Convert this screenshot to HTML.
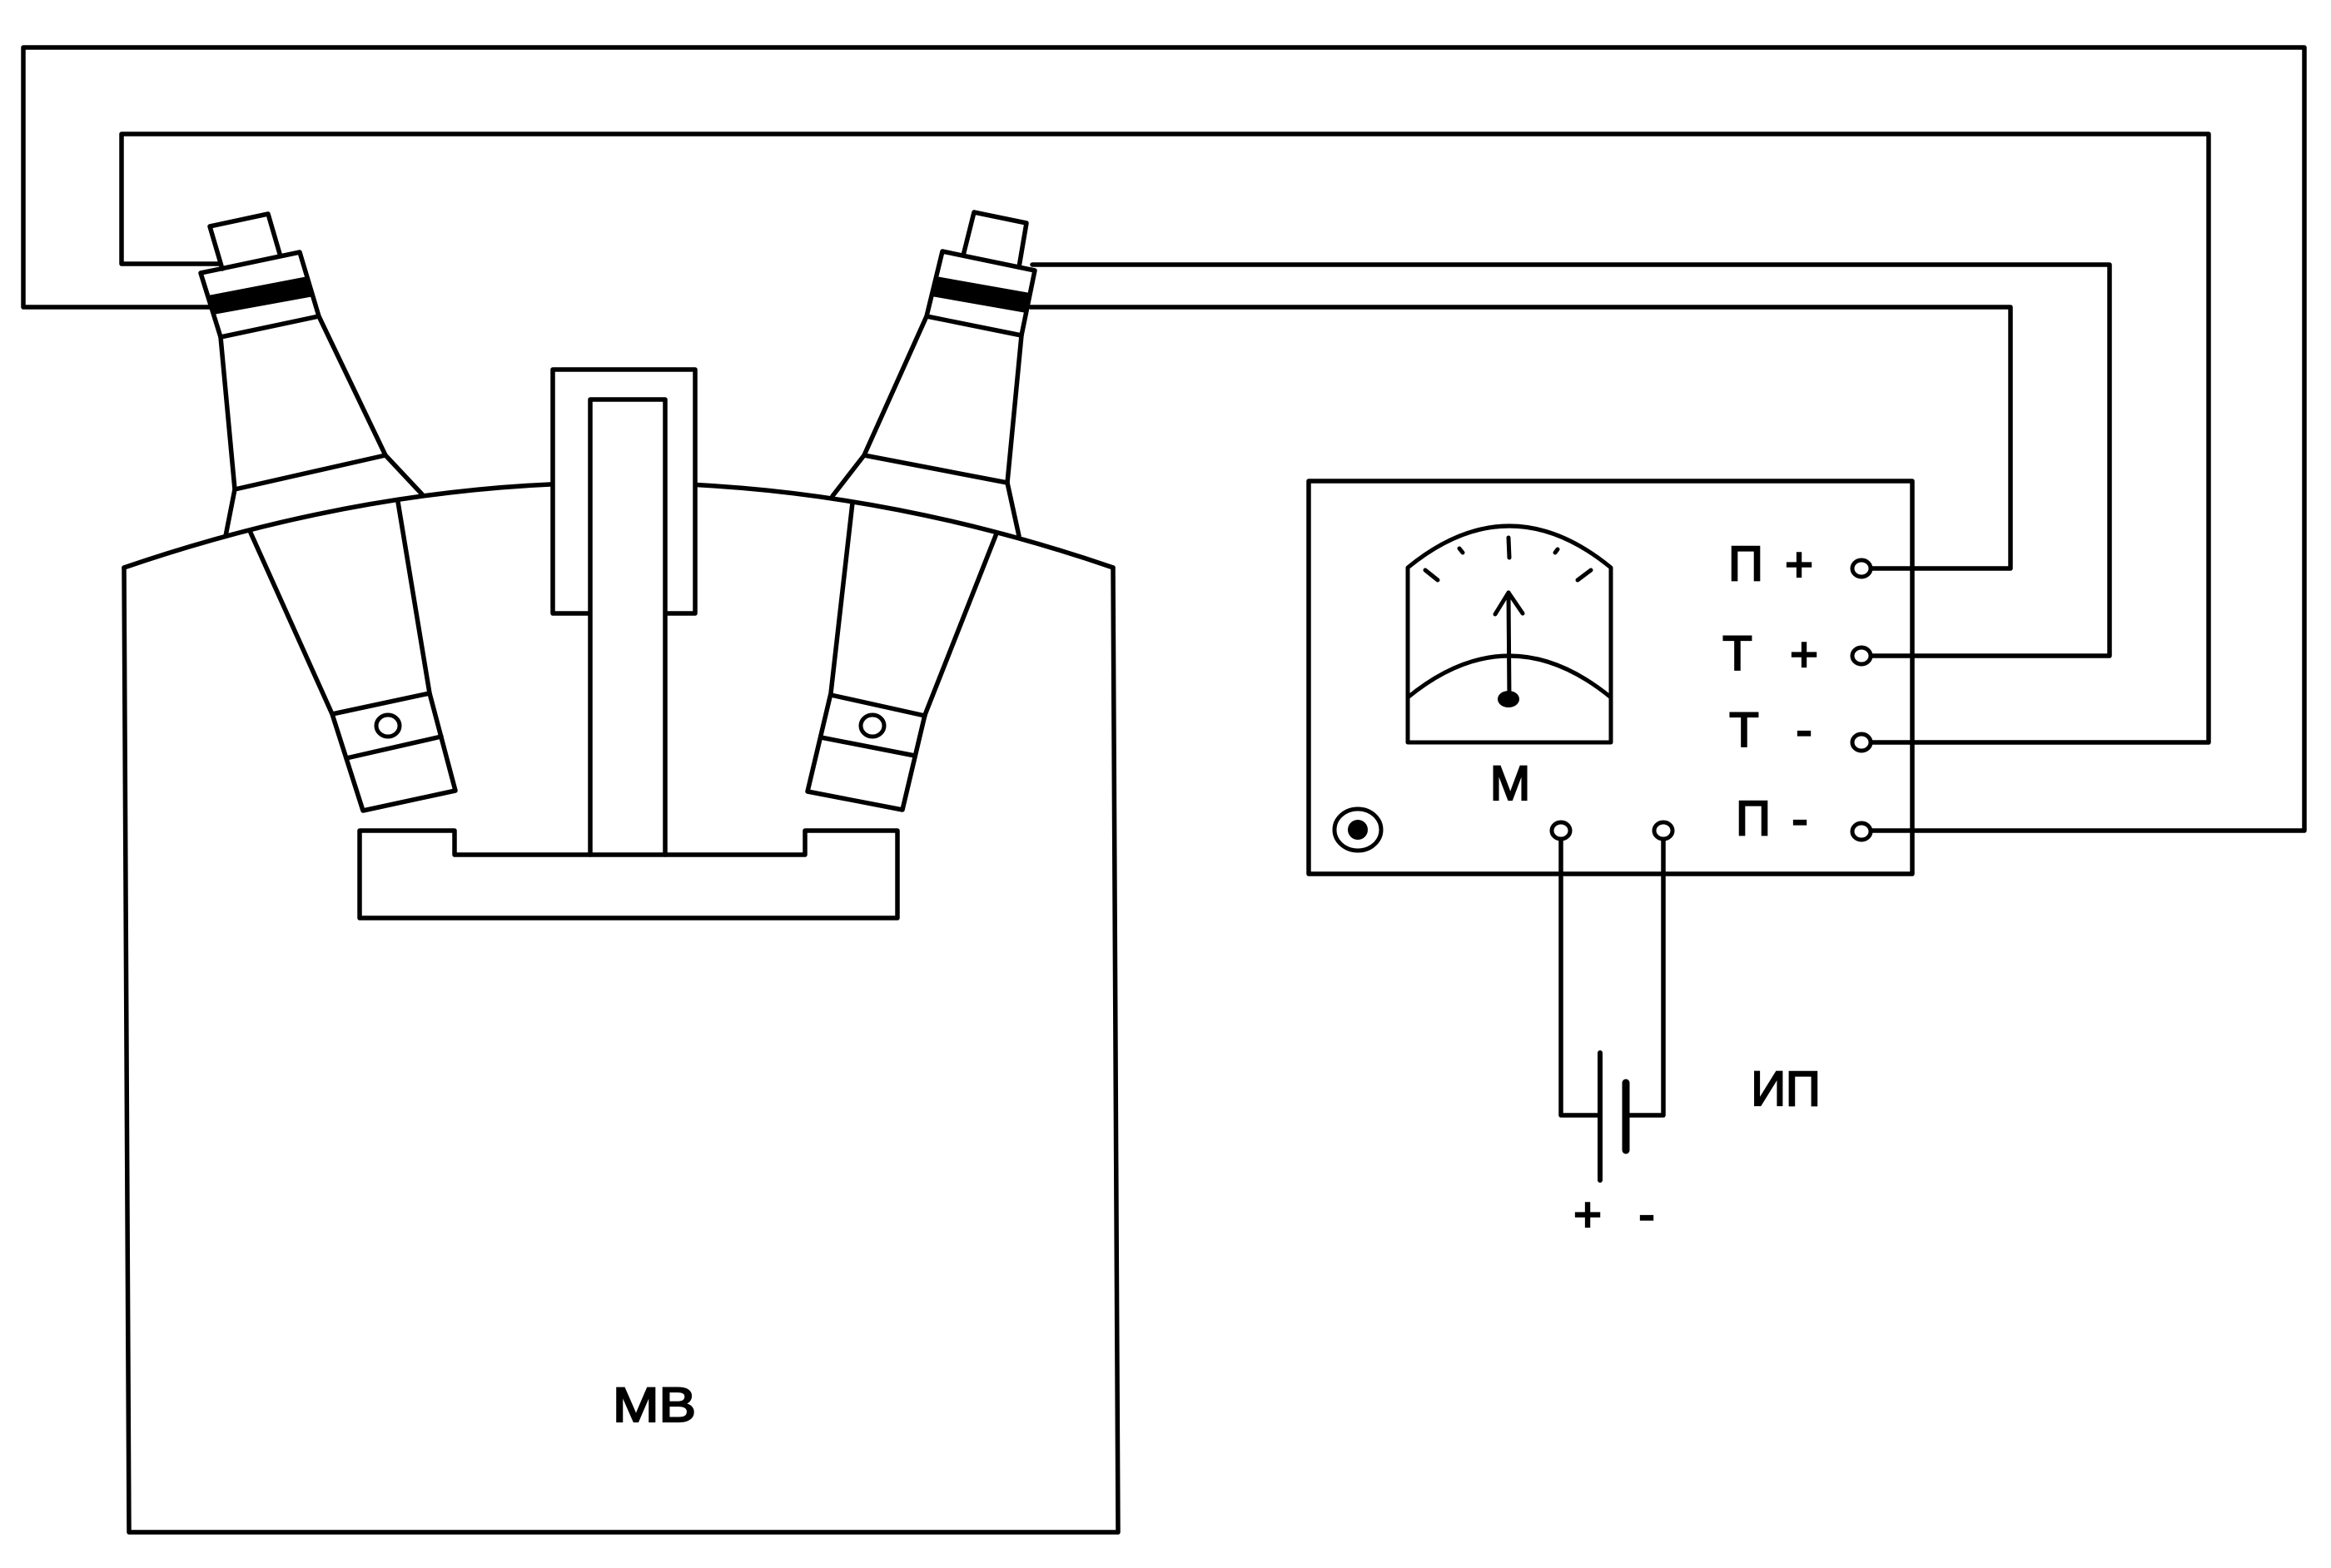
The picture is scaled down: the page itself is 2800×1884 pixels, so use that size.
<!DOCTYPE html>
<html>
<head>
<meta charset="utf-8">
<style>
  html, body { margin: 0; padding: 0; background: #fff; }
  body { width: 2800px; height: 1884px; overflow: hidden; }
  svg { display: block; }
  .t { font-family: "Liberation Sans", "DejaVu Sans", sans-serif; font-size: 58px; fill: #000; stroke: #000; stroke-width: 2.2px; }
</style>
</head>
<body>
<svg width="2800" height="1884" viewBox="0 0 2800 1884" xmlns="http://www.w3.org/2000/svg">
  <rect x="0" y="0" width="2800" height="1884" fill="#fff"/>
  <g fill="none" stroke="#000" stroke-width="5.5" stroke-linejoin="round" stroke-linecap="round">

    <!-- Wires -->
    <path d="M254,369 L28,369 L28,57 L2768,57 L2768,998 L2248,998"/>
    <path d="M265,317 L146,317 L146,161 L2653,161 L2653,892 L2248,892"/>
    <path d="M1240,318 L2534,318 L2534,788 L2248,788"/>
    <path d="M1238,369 L2415,369 L2415,683 L2248,683"/>

    <!-- Tank -->
    <path d="M149,682 L155,1841 L1343,1841 L1337,682"/>
    <path d="M149,682 Q743,478 1337,682"/>

    <!-- Guide bracket -->
    <path d="M706,737 L664,737 L664,444 L835,444 L835,737 L800,737" fill="#fff"/>
    <path d="M709,1027 L709,480 L799,480 L799,1027" fill="#fff"/>

    <!-- Lower plate -->
    <path d="M432,998 L546,998 L546,1027 L967,1027 L967,998 L1078,998 L1078,1103 L432,1103 Z"/>

    <!-- Left bushing -->
    <path d="M267,323 L252,272 L322,257 L336,305"/>
    <path d="M241,328 L360,303 L383,380 L265,405 Z"/>
    <polygon points="250,356 370,333 377,355 256,377" fill="#000" stroke-width="2"/>
    <path d="M265,405 L282,588 L271,644"/>
    <path d="M383,380 L463,547 L508,595"/>
    <path d="M282,588 L463,547"/>
    <path d="M301,640 L399,858 L436,974 L547,950 L516,833 L478,603"/>
    <path d="M399,858 L516,833"/>
    <path d="M416,911 L530,885"/>
    <ellipse cx="466" cy="872" rx="14" ry="13" stroke-width="5"/>

    <!-- Right bushing -->
    <path d="M1157,307 L1170,255 L1233,268 L1224,321"/>
    <path d="M1132,302 L1243,325 L1227,403 L1113,380 Z"/>
    <polygon points="1124,333 1237,353 1233,375 1119,355" fill="#000" stroke-width="2"/>
    <path d="M1113,380 L1038,547 L1000,596"/>
    <path d="M1227,403 L1210,580 L1224,644"/>
    <path d="M1038,547 L1210,580"/>
    <path d="M1024,604 L998,833 L970,951 L1084,973 L1111,859 L1197,641"/>
    <path d="M998,835 L1111,860"/>
    <path d="M986,886 L1099,908"/>
    <ellipse cx="1048" cy="872" rx="14" ry="13" stroke-width="5"/>

    <!-- Meter box -->
    <rect x="1572" y="578" width="725" height="472"/>

    <!-- Dial -->
    <g stroke-width="5">
      <path d="M1691,682 Q1813,582 1935,682 L1935,892 L1691,892 Z"/>
      <path d="M1691,838 Q1813,738 1935,838"/>
      <path d="M1712,685 L1727,697"/>
      <path d="M1753,659 L1757,664"/>
      <path d="M1812,646 L1813,670"/>
      <path d="M1871,660 L1868,664"/>
      <path d="M1911,685 L1895,697"/>
      <path d="M1813,840 L1812,712"/>
      <path d="M1796,738 L1812,712 L1829,737"/>
    </g>
    <ellipse cx="1812" cy="840" rx="13" ry="10" fill="#000" stroke="none"/>

    <!-- Knob -->
    <ellipse cx="1631" cy="997" rx="28" ry="25" stroke-width="5"/>
    <circle cx="1631" cy="997" r="12" fill="#000" stroke="none"/>

    <!-- Battery -->
    <path d="M1875,1009 L1875,1340 L1922,1340"/>
    <path d="M1955,1340 L1998,1340 L1998,1009"/>
    <path d="M1922,1265 L1922,1418" stroke-width="6"/>
    <path d="M1953,1301 L1953,1382" stroke-width="9"/>

    <!-- Terminals -->
    <g fill="#fff" stroke-width="5">
      <ellipse cx="2236" cy="683" rx="11" ry="10"/>
      <ellipse cx="2236" cy="788" rx="11" ry="10"/>
      <ellipse cx="2236" cy="892" rx="11" ry="10"/>
      <ellipse cx="2236" cy="999" rx="11" ry="10"/>
      <ellipse cx="1875" cy="998" rx="11" ry="10"/>
      <ellipse cx="1998" cy="998" rx="11" ry="10"/>
    </g>
  </g>

  <!-- Labels -->
  <g class="t" text-anchor="middle">
    <text x="2097" y="697">П</text>
    <text x="2161" y="698">+</text>
    <text x="2087" y="805">Т</text>
    <text x="2167" y="806">+</text>
    <text x="2095" y="897">Т</text>
    <text x="2167" y="897">-</text>
    <text x="2106" y="1003">П</text>
    <text x="2162" y="1004">-</text>
    <text x="1814" y="961">М</text>
    <text x="786" y="1708" textLength="100" lengthAdjust="spacingAndGlyphs">МВ</text>
    <text x="2145" y="1328">ИП</text>
    <text x="1907" y="1479">+</text>
    <text x="1978" y="1479">-</text>
  </g>
</svg>
</body>
</html>
